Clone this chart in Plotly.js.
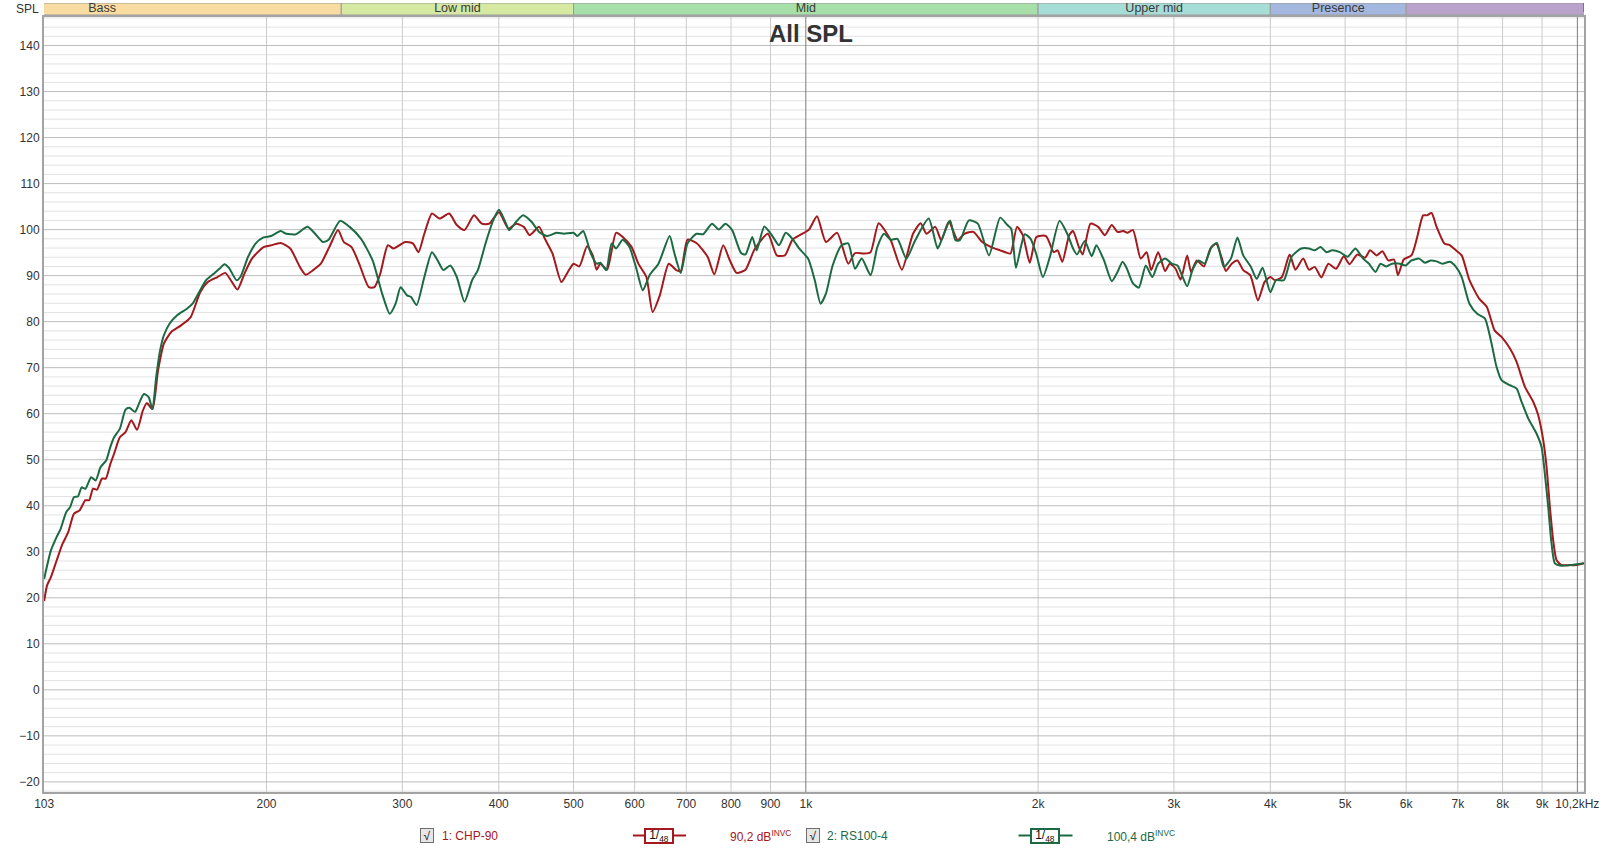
<!DOCTYPE html>
<html>
<head>
<meta charset="utf-8">
<script src="https://cdn.plot.ly/plotly-3.0.1.min.js"></script>
<style>
html,body{margin:0;padding:0;background:#ffffff;}
#chart{width:1606px;height:850px;}
</style>
</head>
<body>
<div id="chart"></div>
<script>
// ---------------- DATA ----------------
const chpFreq = [
  103,103.9,105.1,106.9,108.8,110.7,112.6,114.5,116.5,117.8,
  119.2,120.6,122.4,123.8,125.5,126.9,129.1,131.3,133.6,135.9,
  138.3,139.9,142.3,144.7,147.2,150.6,155.0,159.5,164.1,167.9,
  172.8,176.8,179.8,183.4,187.2,191.5,198.2,202.8,208.6,214.7,
  220.9,224.7,229.9,235.2,241.2,247.6,251.9,257.8,263.7,271.4,
  276.0,280.8,287.3,292.3,302.5,309.5,314.8,320.3,327.7,335.2,
  345.0,352.9,361.1,371.5,380.1,388.9,400.2,411.8,421.3,431.0,
  438.5,451.2,459.0,469.6,482.1,491.6,500.1,508.7,520.5,529.5,
  535.6,541.7,552.7,567.6,579.1,594.7,606.7,621.4,633.1,646.8,
  664.3,679.5,688.6,702.5,721.5,745.9,761.0,781.5,797.3,813.4,
  835.4,858.0,893.0,917.1,939.4,960.9,986.9,1009.5,1034.0,1061.9,
  1097.9,1135.1,1158.1,1189.3,1213.3,1242.8,1288.4,1332.0,1377.1,1408.7,
  1433.3,1472.0,1497.8,1532.1,1573.5,1605.3,1648.7,1693.2,1739.0,1786.0,
  1814,1842,1878,1911,1951,1990,2048,2096,2120,2150,
  2195,2220,2259,2285,2339,2393,2441,2492,2535,2580,
  2610,2655,2717,2765,2803,2862,2922,2963,3015,3060,
  3121,3157,3212,3280,3345,3403,3462,3503,3564,3626,
  3689,3767,3855,3931,4000,4055,4141,4237,4311,4412,
  4489,4567,4658,4756,4867,4980,5067,5186,5307,5387,
  5494,5589,5687,5786,5854,5956,6095,6201,6310,6383,
  6472,6570,6723,6840,6960,7081,7247,7459,7633,7811,
  7974,8175,8339,8549,8765,8896,9030,9121,9212,9304,
  9397,9538,9779,9975,10200
];
const chpSpl = [
  19.3,22.7,24.5,28.1,31.7,34.3,38.3,39.0,41.2,41.2,
  43.7,43.5,45.9,45.9,49.1,51.3,54.9,56.0,58.6,56.5,
  60.7,62.3,61.0,69.4,75.2,77.8,79.2,81.0,86.4,88.6,
  89.7,90.6,89.0,87.0,90.4,93.7,96.2,96.6,97.1,95.9,
  91.9,90.2,91.2,92.6,96.2,99.9,97.3,96.2,92.6,87.5,
  87.5,90.4,96.6,95.9,97.3,97.0,95.1,99.1,103.5,102.4,
  103.5,101.0,99.9,103.1,101.3,101.3,103.8,100.2,101.3,100.6,
  98.8,100.6,98.0,94.8,88.6,90.8,92.6,92.0,96.4,94.4,
  91.3,92.6,91.3,99.3,98.4,96.2,92.6,89.7,82.1,85.7,
  92.6,91.2,91.0,97.8,97.1,94.1,90.3,96.6,93.3,90.6,
  91.3,95.7,99.1,94.4,94.4,97.8,99.0,100.0,102.9,97.3,
  99.3,92.6,94.9,94.8,95.1,101.4,97.7,91.3,99.1,101.4,
  99.1,100.6,97.7,101.7,97.7,99.1,99.5,97.3,96.2,95.5,
  95.1,94.8,100.6,98.8,92.8,98.4,98.6,95.1,95.5,93.0,
  98.8,99.7,96.2,94.6,101.3,100.6,98.8,101.0,99.5,99.7,
  99.3,99.9,93.7,95.1,91.2,95.1,91.0,92.6,91.5,89.1,
  94.4,90.8,93.3,92.0,95.9,97.0,93.7,91.0,92.6,93.3,
  91.2,90.1,84.6,88.6,89.7,89.0,89.7,94.6,91.3,93.7,
  91.3,91.9,89.6,92.6,91.5,94.2,92.5,94.6,93.9,95.5,
  94.4,95.3,93.3,93.5,90.1,93.5,94.4,98.4,103.1,103.1,
  103.6,100.6,97.0,96.6,95.5,94.4,89.0,85.0,83.2,78.1,
  76.7,74.2,71.3,65.9,62.6,59.7,54.3,48.5,39.8,32.5,
  28.2,27.1,27.1,27.1,27.5
];
const rsFreq = [
  103,105.1,106.9,108.2,110.0,111.3,112.6,113.9,115.2,116.5,
  118.5,120.1,121.9,124.0,125.5,126.9,129.1,131.3,132.8,135.1,
  136.7,138.7,140.7,142.3,143.9,145.6,147.2,149.8,153.2,157.7,
  160.4,163.2,167.0,170.8,173.8,176.4,178.8,182.9,185.0,189.3,
  193.7,198.2,202.8,208.6,212.2,218.4,226.0,231.2,236.6,240.7,
  249.1,256.3,265.2,274.5,282.4,288.9,294.0,298.4,304.2,307.7,
  313.0,320.3,327.7,333.3,339.1,346.1,352.9,361.1,369.4,375.8,
  384.5,393.4,400.2,407.1,412.7,421.3,430.1,441.0,451.2,461.7,
  475.0,486.0,500.1,505.8,514.6,526.5,535.6,541.7,551.2,560.1,
  567.6,579.1,590.8,602.7,614.9,627.3,644.2,666.1,675.0,688.6,
  702.5,721.5,736.0,755.9,771.2,786.8,802.7,824.3,835.4,852.3,
  863.7,883.5,905.0,923.2,941.9,960.9,980.3,1006.8,1027.1,1045.1,
  1061.9,1083.4,1112.7,1135.1,1158.1,1181.5,1213.3,1237.9,1262.9,1288.4,
  1314.4,1349.9,1386.3,1442.9,1481.9,1501.8,1538.2,1563.1,1584.0,1626.8,
  1670.8,1727.4,1786.0,1825,1846,1872,1900,1922,1956,1990,
  2029,2072,2132,2182,2220,2246,2299,2347,2380,2435,
  2492,2535,2574,2604,2655,2702,2758,2813,2862,2922,
  2980,3032,3067,3121,3175,3231,3287,3356,3411,3482,
  3556,3626,3689,3775,3841,3908,4000,4069,4165,4262,
  4386,4489,4567,4647,4728,4811,4923,5038,5156,5276,
  5368,5475,5557,5654,5753,5888,5990,6095,6237,6346,
  6457,6570,6684,6840,6960,7081,7247,7416,7587,7739,
  7856,7974,8175,8339,8465,8635,8852,8985,9075,9166,
  9258,9350,9491,9779,10200
];
const rsSpl = [
  24.1,30.3,33.2,35.0,38.6,39.7,41.9,42.0,44.0,43.7,
  46.2,45.5,48.4,49.9,52.8,54.9,56.7,60.9,61.3,60.4,
  62.2,64.3,63.6,61.0,68.0,73.8,77.0,79.6,81.4,82.8,
  83.9,86.1,89.0,90.4,91.5,92.5,91.7,89.0,89.7,94.1,
  97.0,98.3,98.6,99.7,99.1,99.0,100.6,99.1,97.3,97.8,
  101.9,100.6,98.0,93.3,86.1,81.7,83.9,87.5,85.7,85.4,
  83.6,89.7,95.1,93.3,91.2,92.2,89.7,84.3,89.0,91.2,
  97.0,102.0,104.3,102.0,99.9,101.7,103.1,101.7,99.5,98.6,
  99.3,99.1,99.3,98.6,99.7,94.8,92.6,92.8,91.2,97.0,
  95.9,97.8,96.2,91.7,86.8,90.1,92.6,98.6,95.1,90.6,
  97.0,99.1,99.0,101.3,100.0,101.3,99.9,94.9,94.6,98.4,
  95.5,100.7,98.6,96.6,99.3,98.0,95.9,93.7,89.0,83.9,
  86.1,92.2,96.6,97.0,91.5,93.7,90.1,96.2,99.1,97.8,
  98.0,93.7,97.7,102.4,95.9,98.0,102.0,97.7,97.7,102.0,
  101.3,94.4,102.6,101.0,100.2,91.7,96.2,99.0,98.0,94.6,
  89.7,94.1,101.9,99.1,95.9,94.6,97.5,94.2,96.6,93.3,
  88.8,90.8,93.0,91.7,88.3,87.4,92.2,89.7,92.6,93.7,
  92.6,92.2,90.4,87.7,91.5,93.3,92.6,96.2,97.1,91.9,
  93.7,98.3,94.4,91.9,89.3,91.7,86.4,89.0,89.0,94.1,
  95.9,95.9,95.5,96.2,95.1,95.5,95.1,94.1,95.9,93.7,
  92.6,90.8,92.6,92.0,92.6,92.6,92.2,93.3,93.7,92.8,
  93.3,93.1,92.6,93.0,91.9,89.7,83.9,81.7,80.7,75.3,
  70.2,67.3,66.2,65.5,62.6,59.0,55.7,52.8,47.0,39.8,
  31.8,27.5,27.0,27.1,27.5
];
const seriesNames = ["1: CHP-90", "2: RS100-4"];
const seriesLevels = ["90,2 dB", "100,4 dB"];
const xTickVals = [103,200,300,400,500,600,700,800,900,1000,2000,3000,4000,5000,6000,7000,8000,9000,10000];
const xTickText = ["103","200","300","400","500","600","700","800","900","1k","2k","3k","4k","5k","6k","7k","8k","9k","10,2kHz"];
const gridFreqs = [200,300,400,500,600,700,800,900,2000,3000,4000,5000,6000,7000,8000,9000];
const decadeFreqs = [1000, 10000];
const bandNames = ["Bass","Low mid","Mid","Upper mid","Presence","Brilliance"];
const bandLow  = [60, 250, 500, 2000, 4000, 6000];
const bandHigh = [250, 500, 2000, 4000, 6000, 20000];
const freqMin = 103, freqMax = 10200;
const splMin = -22.2, splMax = 146.2;
const splMajorStep = 10, splMinorStep = 2;

// ---------------- STYLE / GEOMETRY ----------------
const W = 1606, H = 850;
const M = {l: 44, r: 22, t: 3, b: 58};
const paperW = W - M.l - M.r, paperH = H - M.t - M.b;
const px2x = px => (px - M.l) / paperW;
const py2y = py => (H - M.b - py) / paperH;
const FONT = "Liberation Sans, Arial, sans-serif";
const seriesColors = ["#a3191d", "#1b6a43"];
const bandColors = ["#f8dca2", "#d5e9a2", "#a6e0a8", "#a6ddd6", "#a4b7df", "#b9a3cc"];
const gridColors = {minor: "#e2e2e2", major: "#bcbcbc", vert: "#cbcbcb", decade: "#7d7d7d"};
const legendPos = [
  {check: 427, name: 440, line: [633, 686], box: 659, level: 728},
  {check: 813, name: 825, line: [1018.5, 1072.5], box: 1045, level: 1104.5}
];
const legendY = py2y(835.5);

// ---------------- TRACES ----------------
const traces = [];
bandNames.forEach((n, i) => {
  traces.push({
    x: [bandLow[i], bandHigh[i], bandHigh[i], bandLow[i], bandLow[i]],
    y: [0, 0, 1, 1, 0],
    xaxis: "x", yaxis: "y2", mode: "lines", fill: "toself",
    fillcolor: bandColors[i], line: {color: "#9a9a9a", width: 1},
    hoverinfo: "skip", showlegend: false
  });
});
traces.push({
  x: bandLow.map((a, i) => Math.sqrt(a * bandHigh[i])),
  y: bandNames.map(() => 0.5),
  text: bandNames, mode: "text", textposition: "middle center",
  textfont: {family: FONT, size: 12.5, color: "#3a3a3a"},
  cliponaxis: true, xaxis: "x", yaxis: "y2", hoverinfo: "skip", showlegend: false
});
const seriesFreq = [chpFreq, rsFreq];
const seriesSpl = [chpSpl, rsSpl];
seriesNames.forEach((n, i) => {
  traces.push({
    x: seriesFreq[i], y: seriesSpl[i], name: n, mode: "lines",
    xaxis: "x", yaxis: "y",
    line: {color: seriesColors[i], width: 2, shape: "spline", smoothing: 0.6},
    showlegend: false
  });
});

// ---------------- GRID (drawn in order: minor, vertical, major, decade) ----------------
const shapes = [];
const hLine = (v, color) => ({type: "line", layer: "below", xref: "x domain", yref: "y",
  x0: 0, x1: 1, y0: v, y1: v, line: {color: color, width: 1}});
const vLine = (f, color) => ({type: "line", layer: "below", xref: "x", yref: "y domain",
  x0: f, x1: f, y0: 0, y1: 1, line: {color: color, width: 1}});
for (let v = Math.ceil(splMin / splMinorStep) * splMinorStep; v <= splMax; v += splMinorStep) {
  if (v % splMajorStep !== 0) shapes.push(hLine(v, gridColors.minor));
}
gridFreqs.forEach(f => shapes.push(vLine(f, gridColors.vert)));
for (let v = Math.ceil(splMin / splMajorStep) * splMajorStep; v <= splMax; v += splMajorStep) {
  shapes.push(hLine(v, gridColors.major));
}
decadeFreqs.forEach(f => shapes.push(vLine(f, gridColors.decade)));

// ---------------- ANNOTATIONS / LEGEND ----------------
const annotations = [{
  xref: "paper", yref: "paper", x: px2x(27.5), y: py2y(8.5),
  text: "SPL", showarrow: false, xanchor: "center", yanchor: "middle",
  font: {family: FONT, size: 12, color: "#333"}
}];
seriesNames.forEach((n, i) => {
  const p = legendPos[i], c = seriesColors[i];
  shapes.push({type: "line", xref: "paper", yref: "paper",
    x0: px2x(p.line[0]), x1: px2x(p.line[1]), y0: legendY, y1: legendY,
    line: {color: c, width: 2}});
  annotations.push({xref: "paper", yref: "paper", x: px2x(p.check), y: legendY,
    text: "√", showarrow: false, xanchor: "center", yanchor: "middle",
    font: {family: FONT, size: 12, color: "#111"}, bgcolor: "#e6e6e6",
    bordercolor: "#6e6e6e", borderwidth: 1, borderpad: 0, width: 12, height: 13});
  annotations.push({xref: "paper", yref: "paper", x: px2x(p.name), y: legendY,
    text: n, showarrow: false, xanchor: "left", yanchor: "middle",
    font: {family: FONT, size: 12, color: c}});
  annotations.push({xref: "paper", yref: "paper", x: px2x(p.box), y: legendY,
    text: "1/<sub>48</sub>", showarrow: false, xanchor: "center", yanchor: "middle",
    font: {family: FONT, size: 12, color: "#111"}, bgcolor: "#ffffff",
    bordercolor: c, borderwidth: 2, borderpad: 0, width: 26, height: 12});
  annotations.push({xref: "paper", yref: "paper", x: px2x(p.level), y: legendY,
    text: seriesLevels[i] + "<sup>INVC</sup>", showarrow: false, xanchor: "left", yanchor: "middle",
    font: {family: FONT, size: 12, color: c}});
});

const layout = {
  width: W, height: H,
  margin: M,
  paper_bgcolor: "#ffffff", plot_bgcolor: "#ffffff",
  showlegend: false,
  title: {
    text: "<b>All SPL</b>", xref: "paper", yref: "paper",
    x: px2x(811), xanchor: "center", y: py2y(34), yanchor: "middle",
    font: {family: FONT, size: 24, color: "#333333"}
  },
  xaxis: {
    type: "log", range: [Math.log10(freqMin) - 0.0002, Math.log10(freqMax)],
    anchor: "y", tickmode: "array", tickvals: xTickVals, ticktext: xTickText,
    ticks: "", showgrid: false,
    zeroline: false, showline: true, linecolor: "#a3a3a3", linewidth: 2, mirror: true,
    tickfont: {family: FONT, size: 12, color: "#333"}, fixedrange: true
  },
  yaxis: {
    domain: [0, py2y(17)], range: [splMin, splMax],
    tickmode: "linear", tick0: 0, dtick: splMajorStep, ticks: "",
    showgrid: false,
    zeroline: false, showline: true, linecolor: "#a3a3a3", linewidth: 2, mirror: true,
    tickfont: {family: FONT, size: 12, color: "#333"}, fixedrange: true, anchor: "x"
  },
  yaxis2: {
    domain: [py2y(15), 1], range: [0, 1], anchor: "x",
    showticklabels: false, showgrid: false, zeroline: false, ticks: "",
    showline: false, fixedrange: true
  },
  shapes: shapes,
  annotations: annotations
};

Plotly.newPlot("chart", traces, layout, {displayModeBar: false, staticPlot: true});
</script>
</body>
</html>
